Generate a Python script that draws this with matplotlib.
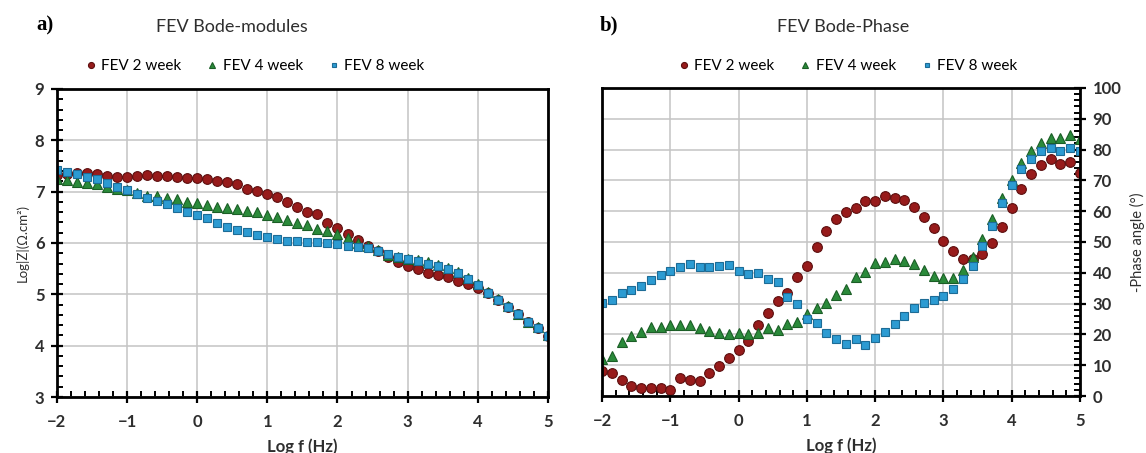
import numpy as np
import matplotlib
matplotlib.use("Agg")
import matplotlib.pyplot as plt
from matplotlib.ticker import MultipleLocator

plt.rcParams['font.family'] = ['Lato', 'DejaVu Sans']

# log f (Hz), 7 points per decade from -2 to 5
log_f = np.linspace(-2, 5, 50)

# Bode modulus, Log|Z|
z_2week = [7.33, 7.35, 7.36, 7.36, 7.34, 7.31, 7.29, 7.29, 7.31, 7.33,
           7.31, 7.31, 7.29, 7.26, 7.26, 7.24, 7.21, 7.18, 7.14, 7.06,
           7.02, 6.95, 6.90, 6.80, 6.71, 6.61, 6.56, 6.38, 6.29, 6.17,
           6.06, 5.94, 5.85, 5.73, 5.63, 5.55, 5.49, 5.42, 5.37, 5.33,
           5.26, 5.21, 5.13, 5.03, 4.89, 4.76, 4.61, 4.46, 4.35, 4.19]
z_4week = [7.24, 7.23, 7.19, 7.17, 7.14, 7.10, 7.06, 7.03, 6.97, 6.92,
           6.91, 6.87, 6.86, 6.79, 6.77, 6.74, 6.71, 6.69, 6.66, 6.62,
           6.60, 6.54, 6.50, 6.45, 6.39, 6.36, 6.28, 6.24, 6.17, 6.09,
           6.00, 5.94, 5.86, 5.76, 5.72, 5.69, 5.66, 5.62, 5.57, 5.52,
           5.43, 5.31, 5.20, 5.04, 4.90, 4.77, 4.62, 4.47, 4.36, 4.21]
z_8week = [7.42, 7.39, 7.34, 7.29, 7.24, 7.16, 7.09, 7.03, 6.95, 6.87,
           6.82, 6.76, 6.69, 6.60, 6.54, 6.48, 6.39, 6.32, 6.25, 6.21,
           6.16, 6.11, 6.08, 6.04, 6.03, 6.02, 6.02, 6.00, 5.98, 5.95,
           5.92, 5.90, 5.85, 5.78, 5.73, 5.69, 5.64, 5.60, 5.55, 5.50,
           5.41, 5.30, 5.19, 5.03, 4.89, 4.76, 4.61, 4.46, 4.35, 4.19]

# Bode phase, -phase angle (deg)
ph_2week = [8.2, 7.6, 5.2, 3.4, 2.7, 2.7, 2.7, 1.9, 5.7, 5.2,
            4.9, 7.4, 9.7, 12.4, 14.9, 17.9, 23.2, 26.8, 30.8, 33.3,
            38.5, 42.2, 48.5, 53.6, 57.5, 59.6, 61.1, 63.4, 63.4, 64.9,
            64.4, 63.5, 61.2, 58.2, 54.4, 50.4, 47.0, 44.5, 44.5, 46.0,
            49.8, 55.0, 61.1, 67.1, 72.0, 74.9, 76.8, 75.2, 76.0, 72.5]
ph_4week = [11.9, 13.1, 17.4, 19.6, 20.9, 22.3, 22.3, 23.1, 23.1, 23.1,
            22.0, 21.2, 20.6, 20.0, 20.6, 20.2, 20.6, 22.0, 21.4, 23.3,
            23.9, 26.5, 28.7, 30.3, 32.8, 34.6, 38.7, 40.2, 43.1, 43.5,
            44.4, 43.9, 42.8, 40.9, 39.1, 38.2, 38.2, 40.9, 45.2, 50.9,
            57.5, 64.2, 70.1, 75.5, 79.4, 82.2, 83.7, 83.8, 84.6, 83.5]
ph_8week = [30.3, 31.1, 33.3, 34.4, 35.8, 37.7, 39.3, 40.7, 42.0, 42.9,
            42.0, 42.0, 42.3, 42.5, 40.7, 39.6, 40.0, 37.9, 37.0, 32.2,
            29.9, 25.1, 23.6, 20.3, 18.4, 16.9, 18.4, 16.6, 18.8, 20.7,
            23.3, 26.0, 28.6, 30.1, 31.2, 32.6, 34.7, 37.9, 42.2, 48.8,
            55.2, 62.6, 68.5, 73.8, 76.8, 79.4, 80.4, 79.7, 80.4, 79.6]

labels = ["FEV 2 week", "FEV 4 week", "FEV 8 week"]
styles = [dict(marker='o', color='#971b1b', mec='#5c0f0f', ms=7.0),
          dict(marker='^', color='#2a8a3a', mec='#1b5e26', ms=7.0),
          dict(marker='s', color='#2c9bd2', mec='#1d6c96', ms=5.6)]

fig = plt.figure(figsize=(11.46, 4.53), dpi=100)
ax1 = fig.add_axes([0.0497, 0.1236, 0.4284, 0.680])
ax2 = fig.add_axes([0.5253, 0.1258, 0.4171, 0.680])


def style_axes(ax):
    ax.grid(True, which='major', color='#c4c4c4', lw=1.1)
    ax.set_axisbelow(True)
    for s in ax.spines.values():
        s.set_linewidth(2.0)
        s.set_color('black')
    ax.xaxis.set_major_locator(MultipleLocator(1))
    ax.xaxis.set_minor_locator(MultipleLocator(0.2))
    ax.tick_params(which='major', direction='inout', length=8, width=1.6,
                   labelsize=12, labelcolor='#2e2e2e', pad=5)
    ax.tick_params(axis='x', which='major', pad=8)
    ax.tick_params(which='minor', direction='in', length=4, width=1.4)
    ax.tick_params(axis='x', which='both', top=False)
    for lab in ax.get_xticklabels() + ax.get_yticklabels():
        lab.set_fontweight('bold')
    ax.set_xlim(-2, 5)
    ax.set_xlabel("Log f (Hz)", fontsize=12, fontweight='bold', color='#2e2e2e', labelpad=6)


for ys, lab, st in zip([z_2week, z_4week, z_8week], labels, styles):
    ax1.plot(log_f, ys, ls='none', mew=0.8, label=lab, **st)
ax1.set_ylim(3, 9)
ax1.yaxis.set_major_locator(MultipleLocator(1))
ax1.yaxis.set_minor_locator(MultipleLocator(0.2))
ax1.tick_params(axis='y', which='both', right=False)
style_axes(ax1)
ax1.set_ylabel("Log|Z|(Ω.cm²)", fontsize=9.5, color='#2e2e2e', labelpad=4)

for ys, lab, st in zip([ph_2week, ph_4week, ph_8week], labels, styles):
    ax2.plot(log_f, ys, ls='none', mew=0.8, label=lab, **st)
ax2.set_ylim(0, 100)
ax2.yaxis.set_major_locator(MultipleLocator(10))
ax2.yaxis.set_minor_locator(MultipleLocator(2))
ax2.yaxis.tick_right()
ax2.yaxis.set_label_position('right')
ax2.tick_params(axis='y', which='both', left=False)
style_axes(ax2)
ax2.set_ylabel("-Phase angle (°)", fontsize=10.5, color='#2e2e2e', labelpad=6)

for ax, cx in [(ax1, 253 / 1146), (ax2, 846 / 1146)]:
    fig.legend(*ax.get_legend_handles_labels(), loc='center', ncol=3,
               bbox_to_anchor=(cx, 1 - 66 / 453), frameon=False,
               fontsize=11, markerscale=0.62, handletextpad=0.1,
               columnspacing=1.4, handlelength=1.2)

fig.text(232 / 1146, 1 - 27 / 453, "FEV Bode-modules", ha='center', va='center',
         fontsize=13, color='#2e2e2e')
fig.text(843 / 1146, 1 - 27 / 453, "FEV Bode-Phase", ha='center', va='center',
         fontsize=13, color='#2e2e2e')
fig.text(36 / 1146, 1 - 25 / 453, "a)", ha='left', va='center', fontsize=15,
         fontweight='bold', family='Liberation Serif')
fig.text(600 / 1146, 1 - 25 / 453, "b)", ha='left', va='center', fontsize=15,
         fontweight='bold', family='Liberation Serif')

fig.savefig("out.png", dpi=100)
